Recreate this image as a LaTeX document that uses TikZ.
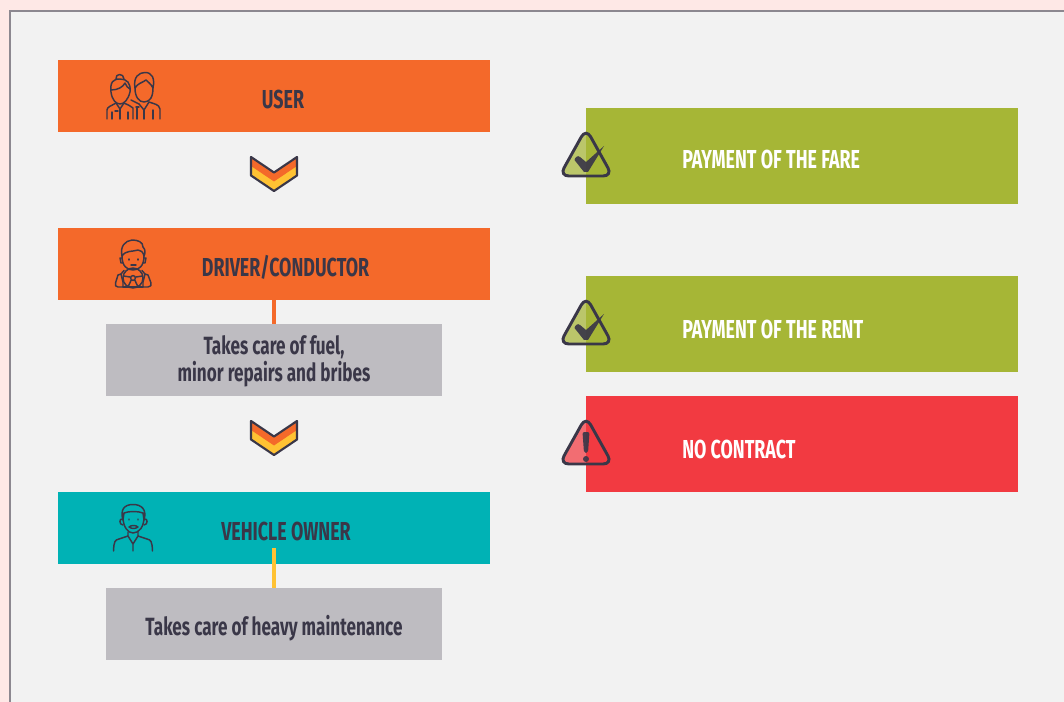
\documentclass[tikz,border=0pt]{standalone}
\usepackage{fontspec}
\setmainfont[FakeStretch=0.687]{Fira Sans}
\definecolor{pagepink}{HTML}{FEE8E6}
\definecolor{panelgray}{HTML}{F2F2F2}
\definecolor{panelline}{HTML}{8C8890}
\definecolor{inkdark}{HTML}{3A3748}
\definecolor{barorange}{HTML}{F4692A}
\definecolor{barteal}{HTML}{00B2B5}
\definecolor{notegray}{HTML}{BEBCC1}
\definecolor{okgreen}{HTML}{A6B636}
\definecolor{badred}{HTML}{F23A41}
\definecolor{chevyellow}{HTML}{FFC233}
\tikzset{
  barbox/.style={minimum width=324pt,minimum height=54pt,inner sep=0pt},
  notebox/.style={fill=notegray,minimum width=252pt,minimum height=54pt,inner sep=0pt},
  sidebox/.style={minimum width=324pt,minimum height=72pt,inner sep=0pt},
  darklabel/.style={text=inkdark,font=\fontsize{19.5}{20}\selectfont\bfseries,align=center,inner sep=0pt},
  notelabel/.style={text=inkdark,font=\fontsize{18.7}{20}\selectfont\bfseries,align=center,inner sep=0pt},
  sidelabel/.style={text=white,font=\fontsize{19.5}{20}\selectfont\bfseries,anchor=west,inner sep=0pt},
  iconline/.style={draw=inkdark,line width=1.1pt,line cap=round,line join=round},
  warnline/.style={draw=inkdark,line width=2.2pt,rounded corners=7pt},
  chevron/.pic={
    \fill[chevyellow] (-23,1) -- (0,16.5) -- (23,1) -- (23,19.5) -- (0,35) -- (-23,19.5) -- cycle;
    \fill[barorange] (-23,1) -- (0,16.5) -- (23,1) -- (23,10) -- (0,25.5) -- (-23,10) -- cycle;
    \draw[inkdark,line width=1.6pt,line join=round] (-23,1) -- (0,16.5) -- (23,1) -- (23,19.5) -- (0,35) -- (-23,19.5) -- cycle;
  },
  warntri/.pic={
    \fill[#1,fill opacity=.72,rounded corners=7pt] (0,-3.5) -- (-26.5,44) -- (26.5,44) -- cycle;
    \draw[warnline] (0,-3.5) -- (-26.5,44) -- (26.5,44) -- cycle;
  }
}
\begin{document}
\begin{tikzpicture}[x=0.75pt,y=-0.75pt]
      \path[use as bounding box] (0,0) rectangle (1064,702);
      \fill[pagepink] (0,0) rectangle (1064,702);
      \fill[panelgray] (10,11) rectangle (1064,702);
      \draw[panelline,line width=0.9pt] (10,702) -- (10,11) -- (1064,11);
      %
      \node[barbox,fill=barorange] (user) at (274,96) {};
      \node[barbox,fill=barorange] (driver) at (274,264) {};
      \node[notebox] (fuel) at (274,360) {};
      \node[barbox,fill=barteal] (owner) at (274,528) {};
      \node[notebox] (heavy) at (274,624) {};
      \coordinate (ownerfoot) at (274,548);
      \draw[barorange,line width=2.4pt] (driver.south) -- (fuel.north);
      \draw[chevyellow,line width=2.4pt] (ownerfoot) -- (heavy.north);
      \node[darklabel] (userlabel) at (283,99.5) {USER};
      \node[darklabel] (driverlabel) at (285.5,267.5) {DRIVER/CONDUCTOR};
      \node[notelabel] (fuellabel) at (274,361) {Takes care of fuel,\\minor repairs and bribes};
      \node[darklabel] (ownerlabel) at (286,531.5) {VEHICLE OWNER};
      \node[notelabel] (heavylabel) at (274,628.5) {Takes care of heavy maintenance};
      \pic at (274,156) {chevron};
      \pic at (274,420) {chevron};
      %
      \node[sidebox,fill=okgreen] (fare) at (802,156) {};
      \node[sidebox,fill=okgreen] (rent) at (802,324) {};
      \node[sidebox,fill=badred] (nocontract) at (802,444) {};
      \node[sidelabel] (farelabel) at (682,159.5) {PAYMENT OF THE FARE};
      \node[sidelabel] (rentlabel) at (682,329.5) {PAYMENT OF THE RENT};
      \node[sidelabel] (nolabel) at (682,449.5) {NO CONTRACT};
      \pic at (586,132) {warntri=okgreen};
      \pic at (586,300) {warntri=okgreen};
      \pic at (586,420) {warntri=badred};
      \foreach \ytop in {132,300}
        \fill[inkdark,fill opacity=.92,shift={(586,\ytop)}] (-11.5,28) .. controls (-11,25) and (-8,23) .. (-6,25) -- (0,30) -- (18,14) -- (2,40) -- (-2,40) -- cycle;
      \fill[inkdark,fill opacity=.92,rounded corners=1.5pt] (582.5,432) -- (589.5,432) -- (588,453) -- (584,453) -- cycle;
      \fill[inkdark,fill opacity=.92] (586,459) circle[radius=3];
      %
      \draw[iconline] (111,92) .. controls (110,82) and (113,79) .. (120,79) .. controls (127,79) and (131,83) .. (130,92) .. controls (128,100) and (124,104) .. (120,104) .. controls (116,104) and (112,100) .. (111,92);
      \draw[iconline] (116,79) .. controls (115,73) and (124,73) .. (124,79);
      \draw[iconline] (111,90) .. controls (118,90) and (123,87) .. (125,83) .. controls (126,86) and (128,88) .. (130,89);
      \draw[iconline] (107,119) -- (107,110) .. controls (107,107) and (111,106) .. (116,103) -- (120,109) -- (124,103) .. controls (128,105) and (131,106) .. (133,108) -- (133,119);
      \draw[iconline] (120,109) -- (120,119) (112,112) -- (112,119) (128,112) -- (128,119) (115,111) -- (118,111);
      \draw[iconline] (135,88) .. controls (135,97) and (139,102) .. (144,102) .. controls (150,102) and (153,97) .. (153,88);
      \draw[iconline] (135,88) .. controls (133,77) and (139,72.5) .. (145,72.5) .. controls (152,72.5) and (155,78) .. (153,88) .. controls (151,84) and (148,82) .. (146,80) .. controls (142,83) and (138,83) .. (135,88);
      \draw[iconline] (131,100) -- (139,104) -- (144,110) -- (149,102) .. controls (154,104) and (159,104) .. (160,109) -- (160,119);
      \draw[iconline] (144,110) -- (144,119) (153,110) -- (153,119) (137,119) -- (137,108) (136,107) -- (139,107);
      %
      \draw[iconline] (122,256) .. controls (122,266) and (127,270) .. (133,270) .. controls (139,270) and (144,266) .. (144,256);
      \draw[iconline] (122,256) .. controls (120,246) and (125,241) .. (132,240) .. controls (138,240) and (143,242) .. (143,247) .. controls (146,250) and (145,254) .. (144,256) .. controls (143,252) and (141,250) .. (138,250) .. controls (132,252) and (126,250) .. (122,256);
      \draw[iconline] (122,258) -- (120,258) -- (121,263) -- (123,263) (144,258) -- (146,258) -- (145,263) -- (143,263);
      \draw[iconline] (129,259) -- (129,260) (138,259) -- (138,260) (131,265) -- (136,265);
      \draw[iconline] (133,278) circle[radius=10];
      \draw[iconline] (133,278) circle[radius=2.4] (123.5,276) -- (130,277) (136,277) -- (142.5,276) (131,280.5) -- (128,287) (135,280.5) -- (138,287);
      \draw[iconline] (124,270.5) -- (121,274) -- (122,278) -- (123,282) -- (123,287) -- (118,287) .. controls (115.5,287) and (115,285) .. (115.5,283) -- (118,275) -- (121,274);
      \draw[iconline] (142,270.5) -- (145,274) -- (144,278) -- (143,282) -- (143,287) -- (148,287) .. controls (151,287) and (151.5,285) .. (151,283) -- (148,275) -- (145,274);
      \draw[iconline] (123,287) -- (143,287);
      %
      \draw[iconline] (123,517) .. controls (123,527) and (128,533) .. (133,533) .. controls (139,533) and (144,527) .. (144,517);
      \draw[iconline] (123,520) .. controls (120,510) and (124,504.5) .. (133,504.5) .. controls (142,504.5) and (147,510) .. (144,520) -- (143,513) .. controls (138,511) and (129,511) .. (124,513) -- cycle;
      \draw[iconline] (122.5,519) .. controls (119,518) and (119,525) .. (123,525) (144.5,519) .. controls (148,518) and (148,525) .. (144,525);
      \draw[iconline] (129,519) -- (129,520) (138,519) -- (138,520) (129,527) .. controls (131,525) and (136,525) .. (138,527) .. controls (135,529) and (132,529) .. (129,527);
      \draw[iconline] (113.5,551) .. controls (114,541) and (115,540) .. (119,539) -- (128,536) -- (128,532);
      \draw[iconline] (152.5,551) .. controls (152,541) and (151,540) .. (147,539) -- (138,536) -- (138,532);
      \draw[iconline] (128,536) -- (133,544) -- (138,536) (133,544) -- (133,551);
    \end{tikzpicture}
\end{document}
